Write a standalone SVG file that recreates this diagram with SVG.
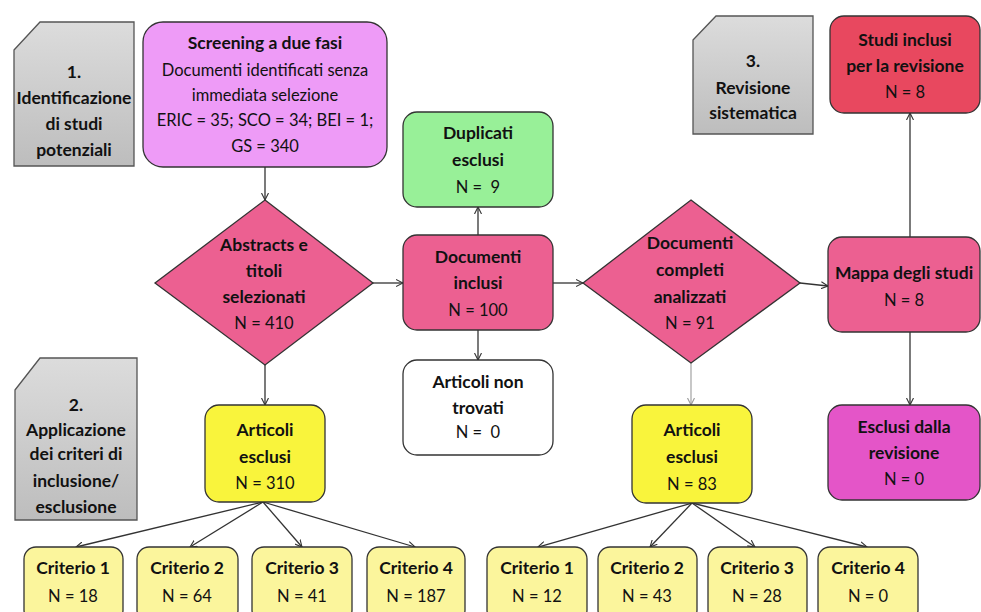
<svg xmlns="http://www.w3.org/2000/svg" width="981" height="612" viewBox="0 0 981 612">
<defs>
<linearGradient id="gr" x1="0" y1="0" x2="0" y2="1">
<stop offset="0" stop-color="#dcdcdc"/><stop offset="1" stop-color="#bdbdbd"/>
</linearGradient>
<marker id="ah" viewBox="0 0 8 8" refX="7" refY="4" markerWidth="8" markerHeight="8" markerUnits="userSpaceOnUse" orient="auto">
<path d="M0,0.5 L7,4 L0,7.5" fill="none" stroke="#333" stroke-width="1.1"/>
</marker>
<marker id="ahg" viewBox="0 0 8 8" refX="7" refY="4" markerWidth="8" markerHeight="8" markerUnits="userSpaceOnUse" orient="auto">
<path d="M0,0.5 L7,4 L0,7.5" fill="none" stroke="#999" stroke-width="1.1"/>
</marker>
</defs>
<style>
text{font-family:Lato,"Liberation Sans",sans-serif;font-size:16.5px;fill:#111;text-anchor:middle;white-space:pre}
.b{font-weight:bold;font-size:17.5px}
.n{stroke:#333;stroke-width:1.3}
.g{fill:url(#gr);stroke:#555;stroke-width:1.3}
.c{stroke:#333;stroke-width:1.3;fill:none;marker-end:url(#ah)}
</style>
<rect width="981" height="612" fill="#fff"/>
<g id="connectors">
<line class="c" x1="265" y1="167" x2="265" y2="200"/>
<line class="c" x1="373" y1="283" x2="403" y2="283"/>
<line class="c" x1="478" y1="235" x2="478" y2="207"/>
<line class="c" x1="478" y1="330" x2="478" y2="360"/>
<line class="c" x1="553" y1="283" x2="583" y2="283"/>
<line class="c" x1="800" y1="283" x2="828" y2="286"/>
<line class="c" x1="910" y1="237" x2="910" y2="113"/>
<line class="c" x1="910" y1="332" x2="910" y2="405"/>
<line class="c" x1="265" y1="365" x2="265" y2="405"/>
<line x1="691" y1="363" x2="691" y2="405" stroke="#aaa" stroke-width="1.3" marker-end="url(#ahg)"/>
<line class="c" x1="263" y1="502" x2="76" y2="547"/>
<line class="c" x1="263" y1="502" x2="190" y2="547"/>
<line class="c" x1="263" y1="502" x2="302" y2="547"/>
<line class="c" x1="263" y1="502" x2="415" y2="547"/>
<line class="c" x1="692" y1="503" x2="538" y2="547"/>
<line class="c" x1="692" y1="503" x2="650" y2="547"/>
<line class="c" x1="692" y1="503" x2="755" y2="547"/>
<line class="c" x1="692" y1="503" x2="867" y2="547"/>
</g>
<g id="fase1">
<path class="g" d="M14,50 L40,22 L134,22 L134,166 L14,166 Z"/>
<text class="b" x="74" y="78">1.</text>
<text class="b" x="74" y="104">Identificazione</text>
<text class="b" x="74" y="130">di studi</text>
<text class="b" x="74" y="156">potenziali</text>
</g>
<g id="screening">
<rect class="n" x="143" y="22" width="244" height="145" rx="20" fill="#ee9bf7"/>
<text class="b" x="265" y="49">Screening a due fasi</text>
<text x="265" y="76">Documenti identificati senza</text>
<text x="265" y="101">immediata selezione</text>
<text x="265" y="126">ERIC = 35; SCO = 34; BEI = 1;</text>
<text x="265" y="152">GS = 340</text>
</g>
<g id="duplicati">
<rect class="n" x="403" y="112" width="150" height="95" rx="14" fill="#98f098"/>
<text class="b" x="478" y="139">Duplicati</text>
<text class="b" x="478" y="166">esclusi</text>
<text x="478" y="193">N =  9</text>
</g>
<g id="fase3">
<path class="g" d="M693,40 L716,16 L813,16 L813,134 L693,134 Z"/>
<text class="b" x="753" y="67">3.</text>
<text class="b" x="753" y="94">Revisione</text>
<text class="b" x="753" y="119">sistematica</text>
</g>
<g id="studi-inclusi">
<rect class="n" x="830" y="16" width="150" height="97" rx="14" fill="#e8485f"/>
<text class="b" x="905" y="46">Studi inclusi</text>
<text class="b" x="905" y="72">per la revisione</text>
<text x="905" y="98">N = 8</text>
</g>
<g id="abstracts">
<path class="n" d="M265,200 L373,283 L265,365 L155,283 Z" fill="#ec6091"/>
<text class="b" x="264" y="251">Abstracts e</text>
<text class="b" x="264" y="277">titoli</text>
<text class="b" x="264" y="303">selezionati</text>
<text x="264" y="329">N = 410</text>
</g>
<g id="documenti-inclusi">
<rect class="n" x="403" y="235" width="150" height="95" rx="14" fill="#ec6091"/>
<text class="b" x="478" y="263">Documenti</text>
<text class="b" x="478" y="289">inclusi</text>
<text x="478" y="316">N = 100</text>
</g>
<g id="documenti-completi">
<path class="n" d="M691,200 L800,283 L691,363 L583,283 Z" fill="#ec6091"/>
<text class="b" x="690" y="249">Documenti</text>
<text class="b" x="690" y="276">completi</text>
<text class="b" x="690" y="303">analizzati</text>
<text x="690" y="329">N = 91</text>
</g>
<g id="mappa">
<rect class="n" x="828" y="237" width="152" height="95" rx="14" fill="#ec6091"/>
<text class="b" x="904" y="279">Mappa degli studi</text>
<text x="904" y="306">N = 8</text>
</g>
<g id="fase2">
<path class="g" d="M15,390 L40,358 L137,358 L137,520 L15,520 Z"/>
<text class="b" x="76" y="411">2.</text>
<text class="b" x="76" y="436">Applicazione</text>
<text class="b" x="76" y="460">dei criteri di</text>
<text class="b" x="76" y="487">inclusione/</text>
<text class="b" x="76" y="513">esclusione</text>
</g>
<g id="articoli-esclusi-1">
<rect class="n" x="205" y="405" width="120" height="97" rx="14" fill="#f9f43c"/>
<text class="b" x="265" y="436">Articoli</text>
<text class="b" x="265" y="463">esclusi</text>
<text x="265" y="489">N = 310</text>
</g>
<g id="non-trovati">
<rect class="n" x="403" y="360" width="150" height="95" rx="14" fill="#fff"/>
<text class="b" x="478" y="388">Articoli non</text>
<text class="b" x="478" y="414">trovati</text>
<text x="478" y="438">N =  0</text>
</g>
<g id="articoli-esclusi-2">
<rect class="n" x="632" y="405" width="120" height="98" rx="14" fill="#f9f43c"/>
<text class="b" x="692" y="436">Articoli</text>
<text class="b" x="692" y="463">esclusi</text>
<text x="692" y="490">N = 83</text>
</g>
<g id="esclusi-revisione">
<rect class="n" x="828" y="405" width="152" height="95" rx="14" fill="#e455c8"/>
<text class="b" x="904" y="433">Esclusi dalla</text>
<text class="b" x="904" y="459">revisione</text>
<text x="904" y="485">N = 0</text>
</g>
<g id="c1a"><rect class="n" x="24" y="547" width="99" height="75" rx="12" fill="#fbf59c"/><text class="b" x="73" y="574">Criterio 1</text><text x="73" y="602">N = 18</text></g>
<g id="c2a"><rect class="n" x="137" y="547" width="101" height="75" rx="12" fill="#fbf59c"/><text class="b" x="187" y="574">Criterio 2</text><text x="187" y="602">N = 64</text></g>
<g id="c3a"><rect class="n" x="252" y="547" width="100" height="75" rx="12" fill="#fbf59c"/><text class="b" x="302" y="574">Criterio 3</text><text x="302" y="602">N = 41</text></g>
<g id="c4a"><rect class="n" x="367" y="547" width="98" height="75" rx="12" fill="#fbf59c"/><text class="b" x="416" y="574">Criterio 4</text><text x="416" y="602">N = 187</text></g>
<g id="c1b"><rect class="n" x="487" y="547" width="100" height="75" rx="12" fill="#fbf59c"/><text class="b" x="537" y="574">Criterio 1</text><text x="537" y="602">N = 12</text></g>
<g id="c2b"><rect class="n" x="598" y="547" width="99" height="75" rx="12" fill="#fbf59c"/><text class="b" x="647" y="574">Criterio 2</text><text x="647" y="602">N = 43</text></g>
<g id="c3b"><rect class="n" x="708" y="547" width="99" height="75" rx="12" fill="#fbf59c"/><text class="b" x="757" y="574">Criterio 3</text><text x="757" y="602">N = 28</text></g>
<g id="c4b"><rect class="n" x="818" y="547" width="100" height="75" rx="12" fill="#fbf59c"/><text class="b" x="868" y="574">Criterio 4</text><text x="868" y="602">N = 0</text></g>
</svg>
